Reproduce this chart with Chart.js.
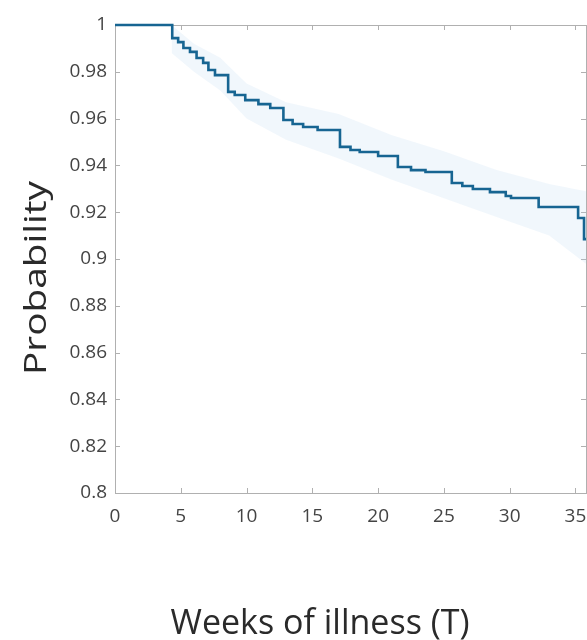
<!DOCTYPE html>
<html>
<head>
<meta charset="utf-8">
<script src="https://cdn.jsdelivr.net/npm/chart.js@4.4.0/dist/chart.umd.min.js"></script>
<style>
html, body { margin: 0; padding: 0; background: #fff; overflow: hidden; width: 587px; height: 640px; }
#wrap { width: 600px; height: 640px; }
</style>
</head>
<body>
<div id="wrap"><canvas id="myChart"></canvas></div>
<script>
// survival curve (step function), weeks vs probability
const weeks = [0, 4.35, 4.8, 5.2, 5.7, 6.2, 6.7, 7.1, 7.6, 8.6, 9.1, 9.9, 10.9, 11.8, 12.8, 13.5, 14.3, 15.4,
    17.1, 17.9, 18.6, 20.0, 21.5, 22.5, 23.6, 25.6, 26.4, 27.2, 28.5, 29.7, 30.1, 32.2, 35.2, 35.65, 35.8];
const survival = [1.0, 0.9944, 0.9927, 0.9902, 0.9885, 0.9859, 0.9838, 0.9808, 0.9786, 0.9714, 0.9701, 0.9679, 0.9662, 0.9645, 0.9594, 0.9577, 0.9564, 0.9551,
    0.9479, 0.9466, 0.9457, 0.9440, 0.9393, 0.9380, 0.9372, 0.9325, 0.9312, 0.9299, 0.9286, 0.9269, 0.9261, 0.9222, 0.9175, 0.9085, 0.9085];

// confidence band
const bandWeeks = [4.3, 6, 8, 10, 13, 17, 21, 25, 29, 33, 35.8];
const bandUpper = [1.0, 0.992, 0.986, 0.975, 0.967, 0.962, 0.953, 0.946, 0.938, 0.932, 0.929];
const bandLower = [0.988, 0.980, 0.972, 0.960, 0.951, 0.943, 0.934, 0.926, 0.918, 0.910, 0.898];

const xTicks = [0, 5, 10, 15, 20, 25, 30, 35];
const yTicks = [0.8, 0.82, 0.84, 0.86, 0.88, 0.9, 0.92, 0.94, 0.96, 0.98, 1];
const xTitle = 'Weeks of illness (T)';
const yTitle = 'Probability';

const lineData = weeks.map((w, i) => ({ x: w, y: survival[i] }));
const upperData = bandWeeks.map((w, i) => ({ x: w, y: bandUpper[i] }));
const lowerData = bandWeeks.map((w, i) => ({ x: w, y: bandLower[i] }));

const FONT = '"Open Sans", "Noto Sans", sans-serif';

// box around plot + inward tick marks, MATLAB style
const framePlugin = {
    id: 'frame',
    beforeDatasetsDraw(chart) {
        const ctx = chart.ctx;
        const a = chart.chartArea;
        const xs = chart.scales.x, ys = chart.scales.y;
        ctx.save();
        ctx.strokeStyle = '#b0b0b0';
        ctx.lineWidth = 1;
        ctx.strokeRect(a.left + 0.5, a.top + 0.5, a.right - a.left, a.bottom - a.top);
        ctx.beginPath();
        xTicks.forEach(t => {
            const px = Math.round(xs.getPixelForValue(t)) + 0.5;
            ctx.moveTo(px, a.bottom); ctx.lineTo(px, a.bottom - 5);
            ctx.moveTo(px, a.top); ctx.lineTo(px, a.top + 5);
        });
        yTicks.forEach(t => {
            const py = Math.round(ys.getPixelForValue(t)) + 0.5;
            ctx.moveTo(a.left, py); ctx.lineTo(a.left + 5, py);
            ctx.moveTo(a.right, py); ctx.lineTo(a.right - 5, py);
        });
        ctx.stroke();
        ctx.restore();
    },
    afterDraw(chart) {
        const ctx = chart.ctx;
        ctx.save();
        // axis titles
        ctx.fillStyle = '#2a2a2a';
        ctx.textAlign = 'center';
        ctx.textBaseline = 'alphabetic';
        ctx.font = '34px ' + FONT;
        ctx.fillText(xTitle, 320, 634);
        ctx.translate(46, 278);
        ctx.rotate(-Math.PI / 2);
        ctx.scale(1.25, 1);
        ctx.font = '31px ' + FONT;
        ctx.fillText(yTitle, 0, 0);
        ctx.restore();
    }
};

const ctx = document.getElementById('myChart').getContext('2d');
const chart = new Chart(ctx, {
    type: 'line',
    data: {
        datasets: [
            {
                label: 'Survival',
                data: lineData,
                stepped: 'before',
                borderColor: '#176592',
                borderWidth: 2.6,
                pointRadius: 0,
                clip: 3,
                fill: false
            },
            {
                label: 'Upper',
                data: upperData,
                borderWidth: 0,
                pointRadius: 0,
                backgroundColor: 'rgba(175, 212, 240, 0.18)',
                fill: '+1'
            },
            {
                label: 'Lower',
                data: lowerData,
                borderWidth: 0,
                pointRadius: 0,
                fill: false
            }
        ]
    },
    options: {
        responsive: true,
        maintainAspectRatio: false,
        animation: false,
        layout: { padding: { top: 25, right: 14, left: 0, bottom: 0 } },
        plugins: { legend: { display: false }, tooltip: { enabled: false } },
        scales: {
            x: {
                type: 'linear',
                min: 0,
                max: 35.8,
                afterBuildTicks: s => { s.ticks = xTicks.map(v => ({ value: v })); },
                afterFit: s => { s.height = 147; },
                grid: { display: false, drawTicks: false },
                border: { display: false },
                ticks: { color: '#444', padding: 12, maxRotation: 0, font: { family: FONT, size: 19 } }
            },
            y: {
                type: 'linear',
                min: 0.8,
                max: 1,
                afterBuildTicks: s => { s.ticks = yTicks.map(v => ({ value: v })); },
                afterFit: s => { s.width = 115; },
                grid: { display: false, drawTicks: false },
                border: { display: false },
                ticks: {
                    color: '#444',
                    padding: 8,
                    font: { family: FONT, size: 19 },
                    callback: v => String(Number(v.toFixed(2)))
                }
            }
        }
    },
    plugins: [framePlugin]
});
</script>
</body>
</html>
